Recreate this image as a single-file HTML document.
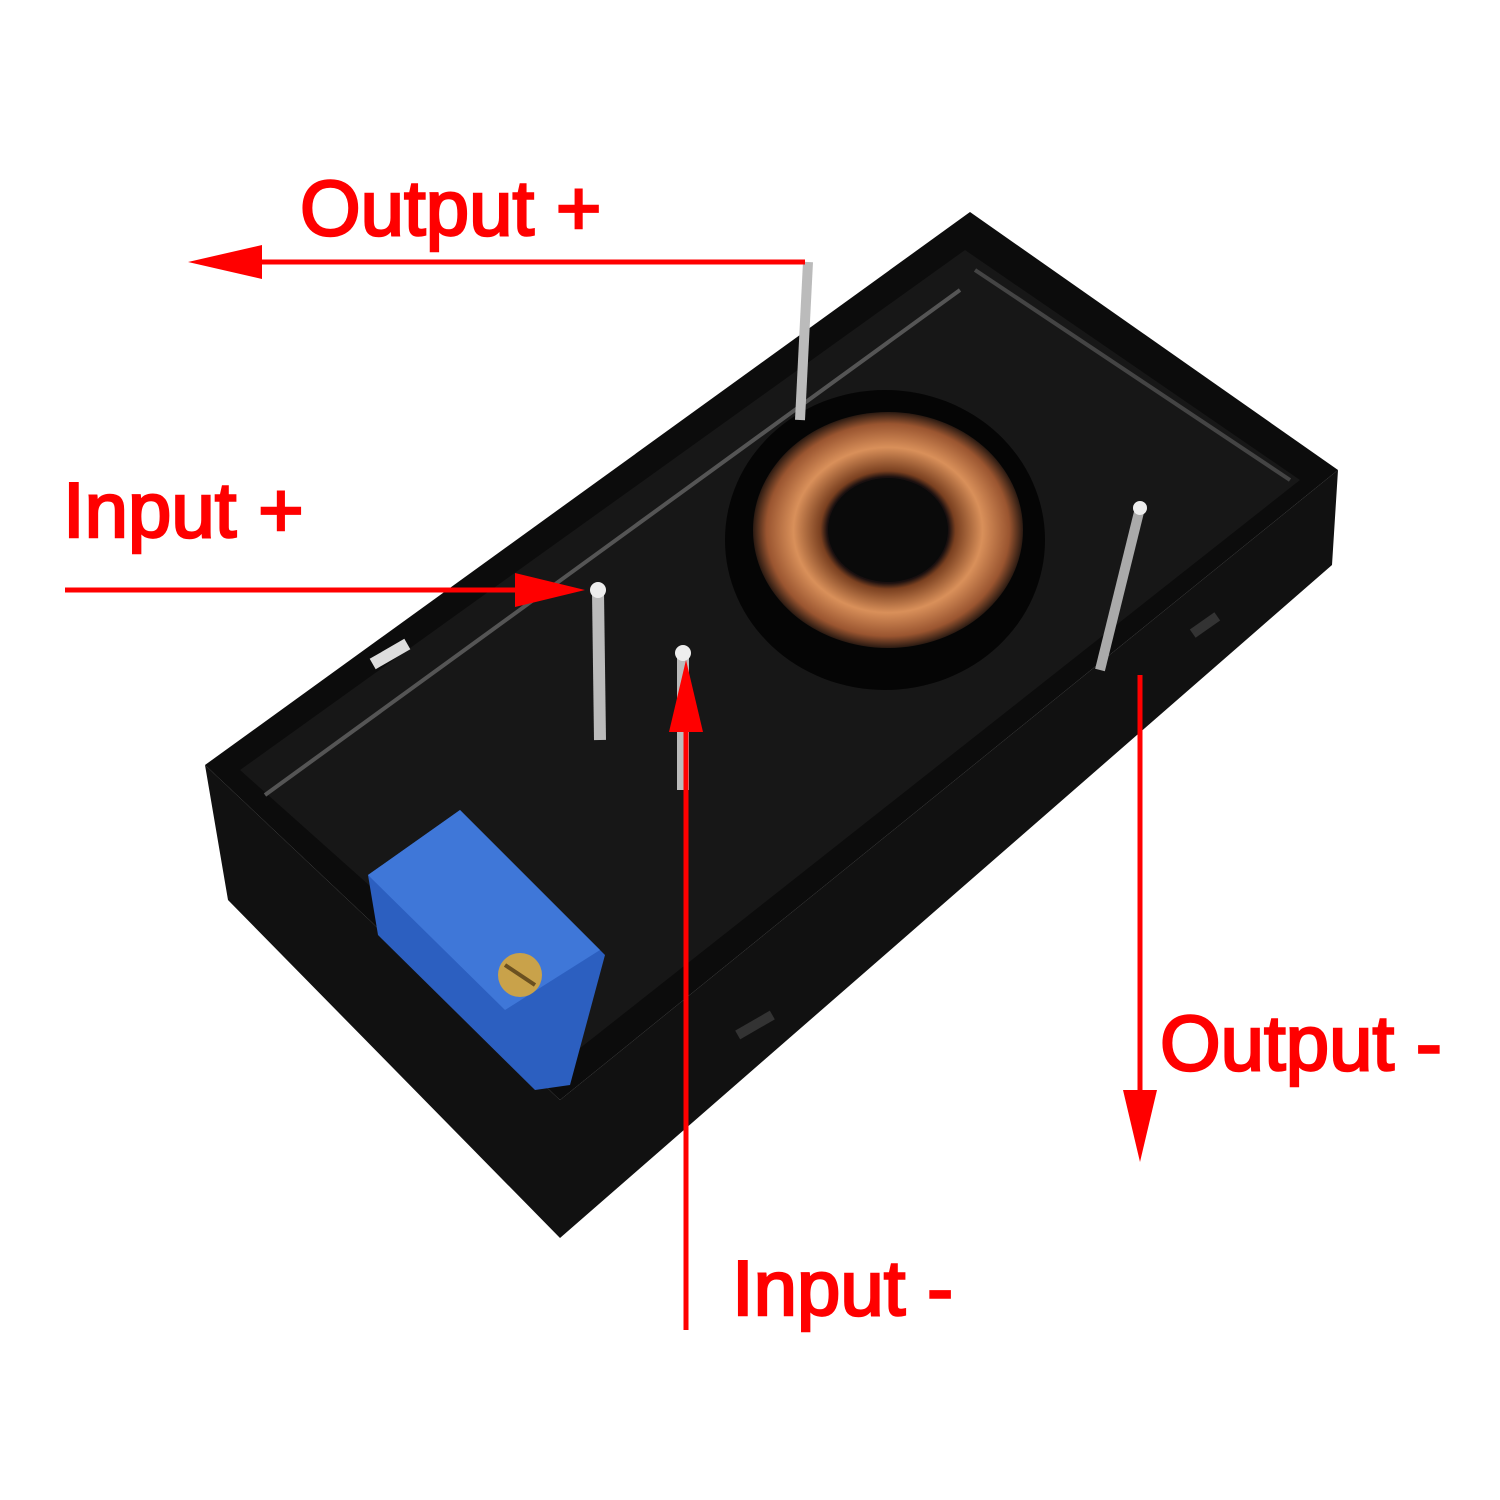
<!DOCTYPE html>
<html><head><meta charset="utf-8"><style>
html,body{margin:0;padding:0;background:#fff}
svg{display:block}
text{font-family:"Liberation Sans",Arial,sans-serif;font-size:78px;fill:#f00;stroke:#f00;stroke-width:2.5}
</style></head><body>
<svg width="1500" height="1500" viewBox="0 0 1500 1500" xmlns="http://www.w3.org/2000/svg">
<defs>
<radialGradient id="tor" cx="50%" cy="50%" r="50%">
<stop offset="0.45" stop-color="#1a1010"/>
<stop offset="0.5" stop-color="#7a4020"/>
<stop offset="0.7" stop-color="#d9905a"/>
<stop offset="0.9" stop-color="#9a5530"/>
<stop offset="1" stop-color="#2a1a12"/>
</radialGradient>
</defs>
<polygon points="205,765 560,1100 1338,470 1332,565 560,1238 228,900" fill="#111"/>
<polygon points="205,765 970,212 1338,470 560,1100" fill="#0c0c0c"/>
<polygon points="240,770 965,250 1300,480 565,1060" fill="#1a1a1a" opacity="0.8"/>
<polyline points="265,795 960,290" stroke="#555" stroke-width="4" fill="none"/>
<polyline points="975,270 1290,480" stroke="#444" stroke-width="4" fill="none"/>
<rect x="370" y="648" width="40" height="12" fill="#ddd" transform="rotate(-30 390 654)"/>
<rect x="735" y="1020" width="40" height="10" fill="#333" transform="rotate(-30 755 1025)"/>
<rect x="1190" y="620" width="30" height="10" fill="#333" transform="rotate(-35 1205 625)"/>
<ellipse cx="885" cy="540" rx="160" ry="150" fill="#050505"/>
<ellipse cx="888" cy="530" rx="135" ry="118" fill="url(#tor)"/>
<ellipse cx="888" cy="530" rx="60" ry="52" fill="#0a0a0a"/>
<polygon points="368,875 460,810 605,955 570,1085 535,1090 378,935" fill="#2c5fc0"/>
<polygon points="368,875 460,810 600,950 505,1010" fill="#3f77d8"/>
<circle cx="520" cy="975" r="22" fill="#c9a24a"/>
<line x1="505" y1="965" x2="535" y2="985" stroke="#6b5020" stroke-width="4"/>
<line x1="808" y1="262" x2="800" y2="420" stroke="#bbb" stroke-width="10"/>
<line x1="598" y1="592" x2="600" y2="740" stroke="#bbb" stroke-width="12"/>
<line x1="683" y1="652" x2="683" y2="790" stroke="#bbb" stroke-width="12"/>
<line x1="1140" y1="508" x2="1100" y2="670" stroke="#aaa" stroke-width="10"/>
<circle cx="598" cy="590" r="8" fill="#eee"/>
<circle cx="683" cy="653" r="8" fill="#eee"/>
<circle cx="1140" cy="508" r="7" fill="#eee"/>
<g fill="#f00" stroke="#f00">
<line x1="805" y1="262" x2="240" y2="262" stroke-width="5"/>
<polygon points="188,262 262,245 262,279" stroke="none"/>
<line x1="65" y1="590" x2="530" y2="590" stroke-width="5"/>
<polygon points="585,590 515,573 515,607" stroke="none"/>
<line x1="686" y1="1330" x2="686" y2="720" stroke-width="5"/>
<polygon points="686,660 669,732 703,732" stroke="none"/>
<line x1="1140" y1="675" x2="1140" y2="1100" stroke-width="5"/>
<polygon points="1140,1162 1123,1090 1157,1090" stroke="none"/>
</g>
<text x="300" y="235">Output +</text>
<text x="63" y="537">Input +</text>
<text x="1160" y="1070">Output -</text>
<text x="732" y="1315">Input -</text>
</svg>
</body></html>
